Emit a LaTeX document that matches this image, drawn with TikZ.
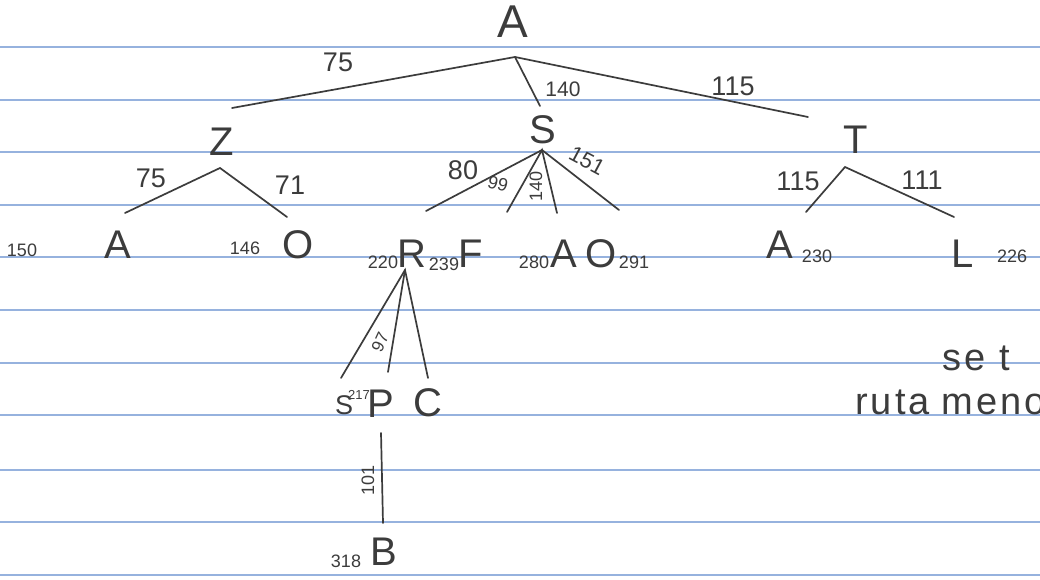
\documentclass[tikz,border=0pt]{standalone}
\usepackage{fontspec}
\setmainfont{Liberation Sans}
\begin{document}
\begin{tikzpicture}[x=1pt,y=-1pt,
  pencil/.style={draw=pen, line width=1.7pt, line cap=round},
  big/.style={font=\fontsize{40}{40}\selectfont, text=pen, inner sep=0pt},
  huge/.style={font=\fontsize{46}{46}\selectfont, text=pen, inner sep=0pt},
  mid/.style={font=\fontsize{27}{27}\selectfont, text=pen, inner sep=0pt},
  small/.style={font=\fontsize{18}{18}\selectfont, text=pen, inner sep=0pt},
  note/.style={font=\fontsize{38}{38}\selectfont\addfontfeature{LetterSpace=8}, text=pen, inner sep=0pt, anchor=base west},
  rule/.style={draw=ruleblue, line width=1.3pt}]
\definecolor{pen}{RGB}{60,60,60}
\definecolor{ruleblue}{RGB}{150,178,222}
\useasboundingbox (0,0) rectangle (1040,580);
\fill[white] (0,0) rectangle (1040,580);
\begin{scope}
\clip (0,0) rectangle (1040,580);
% ruled paper
\foreach \yy in {47,100,152,205,257,310,363,415,470,522,575}
  \draw[rule] (0,\yy) -- (1040,\yy);

% root
\node[huge] (A0) at (513,22) {A};
\coordinate (jA) at (515,57);
\coordinate (eZ) at (232,108);
\coordinate (eS) at (540,106);
\coordinate (eT) at (808,117);
\draw[pencil] (eZ) -- (jA) -- (eT);
\draw[pencil] (jA) -- (eS);
\node[mid] (l75a) at (338,62) {75};
\node[small,font=\fontsize{21}{21}\selectfont] (l140) at (563,89) {140};
\node[mid] (l115a) at (733,86) {115};

% level 1
\node[big] (Z) at (222,142) {Z};
\node[big] (S) at (543,130) {S};
\node[big] (T) at (856,140) {T};

% Z children
\coordinate (jZ) at (220,168);
\coordinate (eZA) at (125,213);
\coordinate (eZO) at (287,217);
\draw[pencil] (eZA) -- (jZ) -- (eZO);
\node[mid] (l75b) at (151,178) {75};
\node[mid] (l71) at (290,185) {71};
\node[small] (g150) at (22,250) {150};
\node[big] (ZA) at (118,245) {A};
\node[small] (g146) at (245,248) {146};
\node[big] (ZO) at (298,245) {O};

% S children
\coordinate (jS) at (542,150);
\coordinate (eSR) at (426,211);
\coordinate (eSF) at (507,212);
\coordinate (eSA) at (557,213);
\coordinate (eSO) at (619,210);
\draw[pencil] (eSR) -- (jS) -- (eSO);
\draw[pencil] (eSF) -- (jS) -- (eSA);
\node[mid] (l80) at (463,170) {80};
\node[small,rotate=-15] (l99) at (498,184) {99};
\node[small,rotate=90] (l140b) at (536,186) {140};
\node[small,font=\fontsize{22}{22}\selectfont,rotate=-28] (l151) at (587,161) {151};
\node[small] (g220) at (383,262) {220};
\node[big] (R) at (412,254) {R};
\node[small] (g239) at (444,264) {239};
\node[big] (F) at (471,254) {F};
\node[small] (g280) at (534,262) {280};
\node[big] (SA) at (564,254) {A};
\node[big] (SO) at (601,254) {O};
\node[small] (g291) at (634,262) {291};

% T children
\coordinate (jT) at (845,167);
\coordinate (eTA) at (806,212);
\coordinate (eTL) at (954,217);
\draw[pencil] (eTA) -- (jT) -- (eTL);
\node[mid] (l115b) at (798,181) {115};
\node[mid] (l111) at (922,180) {111};
\node[big] (TA) at (780,245) {A};
\node[small] (g230) at (817,256) {230};
\node[big] (TL) at (963,254) {L};
\node[small] (g226) at (1012,256) {226};

% R children
\coordinate (jR) at (405,270);
\coordinate (eRS) at (341,378);
\coordinate (eRP) at (388,372);
\coordinate (eRC) at (428,378);
\draw[pencil] (eRS) -- (jR) -- (eRC);
\draw[pencil] (jR) -- (eRP);
\node[small,font=\fontsize{17}{17}\selectfont,rotate=65] (l97) at (380,342) {97};
\node[mid] (RS) at (344,405) {S};
\node[small,font=\fontsize{13}{13}\selectfont] (g217) at (359,395) {217};
\node[big] (RP) at (381,404) {P};
\node[big] (RC) at (428,403) {C};

% P child
\coordinate (sP) at (381,433);
\coordinate (eB) at (383,523);
\draw[pencil] (sP) -- (eB);
\node[small,rotate=90] (l101) at (368,480) {101};
\node[small] (g318) at (346,561) {318};
\node[big] (B) at (384,552) {B};

% note at right
\node[note] (n1) at (942,370) {se\hspace{14pt}t};
\node[note] (n2) at (855,414) {ruta\hspace{12pt}meno};
\end{scope}
\end{tikzpicture}
\end{document}
